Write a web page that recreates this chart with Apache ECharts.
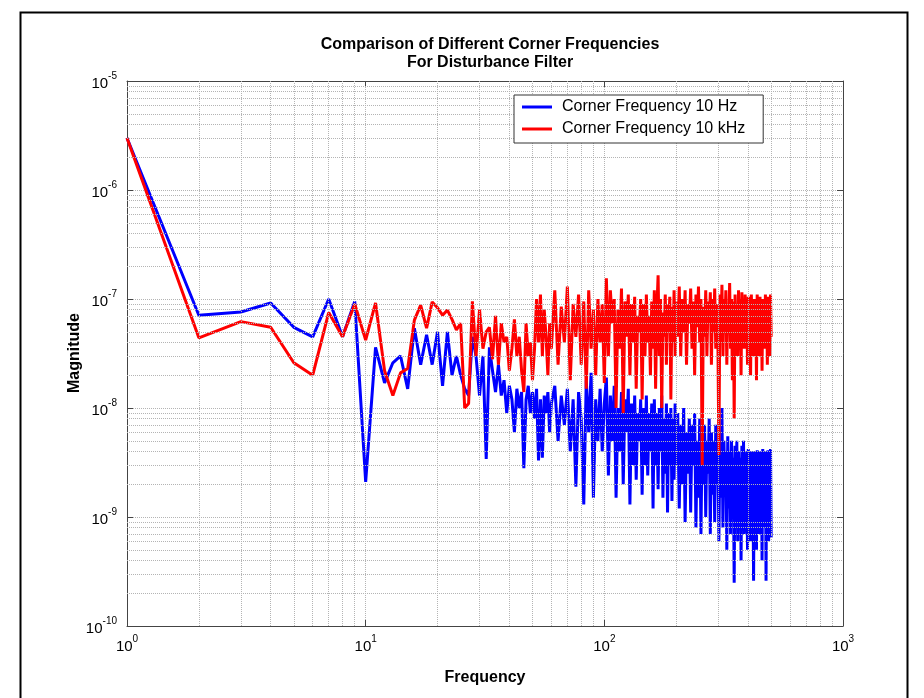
<!DOCTYPE html>
<html>
<head>
<meta charset="utf-8">
<script src="https://cdn.jsdelivr.net/npm/echarts@6/dist/echarts.min.js"></script>
<style>
  html, body { margin: 0; padding: 0; background: #fff; }
  #main { width: 924px; height: 698px; }
</style>
</head>
<body>
<div id="main"></div>
<script>
function range(a, b, step) {
    var out = [];
    for (var f = a; f <= b; f += step) out.push(f);
    return out;
}

// frequency samples (Hz)
var freqs = [].concat(range(1, 60, 1), range(62, 200, 2), range(203, 500, 3));

// magnitudes in units of 1e-9
var blueNano = [
    3000, 71, 76, 92, 55, 45, 100, 45, 95, 2.1,
    36, 17, 26, 30, 15, 54, 25, 47, 25, 50,
    16, 50, 20, 30, 20, 15, 13, 45, 30, 13,
    30, 3.4, 36, 22, 14, 25, 13, 18, 9, 16,
    12, 6, 15, 10, 14, 2.8, 12, 16, 9, 14,
    8, 15, 3.3, 12, 3.5, 13, 9, 14, 6, 11,
    // 62..200 step 2
    16, 5, 13, 7, 15, 4, 12, 1.9, 14, 8, 1.3, 18, 6, 21, 1.5, 12, 5, 15, 4, 11,
    19, 2.4, 13, 5, 16, 1.5, 10, 4, 14, 2, 12, 6, 15, 1.3, 11, 3, 13, 2.2, 9, 5, 12, 1.6, 10, 3,
    13, 2.4, 9, 4, 11, 1.2, 12, 3, 9, 1.8, 10, 4, 13, 1.5, 8, 2.5, 11, 1.1, 9, 3, 10, 1.4, 8, 2.2, 11, 3,
    // 203..500 step 3
    9, 1.2, 7, 2, 10, 0.9, 6, 2.5, 8, 1.1, 7, 3, 9, 0.8, 5, 1.5, 8, 0.7, 6, 2, 7, 1, 5, 2.5, 8, 0.7, 6, 1.6, 5, 0.9, 7, 2, 5,
    0.6, 4.5, 1.5, 10, 0.8, 5, 2, 4, 0.5, 5.5, 1.2, 4, 0.7, 5, 2, 3.5, 0.25, 4.5, 1, 5, 0.6, 4, 1.5, 3.5, 0.4, 4.5, 1.2, 5, 0.7, 3.8, 1.8, 4, 0.5,
    4.2, 1, 3.5, 0.6, 4, 1.5, 3.2, 0.26, 4, 1.1, 3.6, 0.5, 4.1, 1.6, 3.3, 0.7, 4, 1.2, 3.8, 0.4, 4.2, 1.4, 3.5, 0.8, 4, 0.26, 3.7, 1.3, 4.1, 0.6, 3.5, 1, 4.2, 0.65
];

var redNano = [
    3000, 44, 62, 55, 26, 20, 75, 45, 90, 42,
    92, 22, 13, 21, 23, 64, 88, 54, 94, 83,
    71, 79, 65, 52, 60, 10, 11, 95, 30, 80,
    35, 50, 55, 28, 70, 25, 60, 40, 45, 22,
    35, 65, 30, 45, 22, 14, 60, 30, 40, 18,
    35, 100, 40, 110, 30, 80, 45, 20, 60, 35,
    // 62..200 step 2
    120, 25, 85, 40, 130, 18, 90, 45, 110, 25, 95, 15, 120, 35, 80, 20, 100, 40, 90, 17,
    155, 30, 120, 60, 100, 10, 80, 35, 125, 9, 95, 45, 110, 20, 90, 40, 105, 15, 70, 50, 100, 12, 90, 30,
    110, 40, 70, 20, 95, 35, 120, 15, 80, 165, 30, 100, 10, 75, 45, 110, 25, 90, 50, 105, 12, 85, 40, 120, 30, 95,
    // 203..500 step 3
    45, 130, 30, 100, 50, 120, 25, 90, 60, 125, 35, 95, 20, 110, 55, 130, 40, 100, 3, 85, 45, 120, 30, 95, 60, 115, 25, 100, 50, 125, 35, 90, 45,
    3.7, 110, 40, 135, 30, 100, 55, 120, 25, 90, 60, 140, 35, 100, 18, 95, 8, 110, 50, 85, 30, 120, 45, 100, 20, 115, 60, 90, 35, 110, 50, 95, 25,
    105, 40, 90, 20, 110, 55, 85, 30, 100, 45, 95, 18, 110, 60, 90, 30, 105, 50, 85, 22, 100, 65, 95, 35, 110, 50, 90, 25, 105, 60, 95, 30, 110, 45
];

var xMinorGrid = [2, 3, 4, 5, 6, 7, 8, 9, 20, 30, 40, 50, 60, 70, 80, 90, 200, 300, 400, 500, 600, 700, 800, 900];
var yMinorGrid = [];
[1e-10, 1e-9, 1e-8, 1e-7, 1e-6].forEach(function (d) {
    for (var k = 2; k <= 9; k++) yMinorGrid.push(k * d);
});

var seriesNames = ['Corner Frequency 10 Hz', 'Corner Frequency 10 kHz'];
var X_MIN = 1, X_MAX = 1000, Y_MIN = 1e-10, Y_MAX = 1e-5;

function pairs(vals) {
    return freqs.map(function (f, i) { return [f, vals[i] * 1e-9]; });
}

var FONT = 'Liberation Sans, Arial, sans-serif';
var gridLine = { color: '#b4b4b4', type: 'dotted', width: 1 };
var powLabel = {
    fontFamily: FONT,
    formatter: function (v) {
        var e = Math.round(Math.log10(v));
        return '{b|10}{s|' + e + '}';
    },
    rich: {
        b: { fontSize: 15, color: '#000', fontFamily: FONT, lineHeight: 20, verticalAlign: 'bottom' },
        s: { fontSize: 10, color: '#000', fontFamily: FONT, lineHeight: 20, verticalAlign: 'top' }
    }
};

var minorLines = xMinorGrid.map(function (v) {
    return [{ coord: [v, Y_MIN] }, { coord: [v, Y_MAX] }];
}).concat(yMinorGrid.map(function (v) {
    return [{ coord: [X_MIN, v] }, { coord: [X_MAX, v] }];
}));

var legendIcon = 'path://M0,0 M30,14 M0,5.5 L30,5.5 L30,8.5 L0,8.5 Z';

var myChart = echarts.init(document.getElementById('main'));
var option = {
    animation: false,
    backgroundColor: '#fff',
    title: {
        text: 'Comparison of Different Corner Frequencies\nFor Disturbance Filter',
        left: 485,
        top: 31,
        textAlign: 'center',
        textStyle: { fontFamily: FONT, fontSize: 16, fontWeight: 'bold', lineHeight: 18, color: '#000' }
    },
    graphic: [{
        type: 'rect',
        left: 18, top: 10,
        shape: { width: 887, height: 700 },
        style: { fill: 'none', stroke: '#000', lineWidth: 2 },
        silent: true
    }, {
        // y axis title
        type: 'text',
        x: 75, y: 353,
        rotation: Math.PI / 2,
        style: {
            text: 'Magnitude', fill: '#000', align: 'center', verticalAlign: 'middle',
            font: 'bold 16px Liberation Sans, Arial, sans-serif'
        },
        silent: true
    }],
    legend: {
        data: seriesNames.map(function (n) { return { name: n, icon: legendIcon }; }),
        orient: 'vertical',
        left: 514,
        top: 95,
        z: 20,
        itemWidth: 30,
        itemHeight: 14,
        itemGap: 6,
        padding: [4, 18, 6, 8],
        backgroundColor: '#fff',
        borderColor: '#333',
        borderWidth: 1,
        textStyle: { fontFamily: FONT, fontSize: 16, color: '#000', padding: [0, 0, 0, 5] }
    },
    grid: { left: 127, top: 81, width: 716, height: 545 },
    xAxis: [{
        type: 'log',
        logBase: 10,
        min: X_MIN,
        max: X_MAX,
        name: 'Frequency',
        nameLocation: 'middle',
        nameGap: 44,
        nameTextStyle: { fontFamily: FONT, fontSize: 16, fontWeight: 'bold', color: '#000' },
        axisLine: { show: true, lineStyle: { color: '#444', width: 1 } },
        axisTick: { show: true, inside: true, length: 6, lineStyle: { color: '#444' } },
        axisLabel: Object.assign({ margin: 8 }, powLabel),
        splitLine: { show: true, lineStyle: gridLine }
    }, {
        type: 'log',
        logBase: 10,
        min: X_MIN,
        max: X_MAX,
        position: 'top',
        axisLine: { show: true, lineStyle: { color: '#444', width: 1 } },
        axisTick: { show: true, inside: true, length: 6, lineStyle: { color: '#444' } },
        axisLabel: { show: false },
        splitLine: { show: false }
    }],
    yAxis: [{
        type: 'log',
        logBase: 10,
        min: Y_MIN,
        max: Y_MAX,
        axisLine: { show: true, lineStyle: { color: '#444', width: 1 } },
        axisTick: { show: true, inside: true, length: 6, lineStyle: { color: '#444' } },
        axisLabel: Object.assign({ margin: 10 }, powLabel),
        splitLine: { show: true, lineStyle: gridLine }
    }, {
        type: 'log',
        logBase: 10,
        min: Y_MIN,
        max: Y_MAX,
        position: 'right',
        axisLine: { show: true, lineStyle: { color: '#444', width: 1 } },
        axisTick: { show: true, inside: true, length: 6, lineStyle: { color: '#444' } },
        axisLabel: { show: false },
        splitLine: { show: false }
    }],
    series: [
        {
            type: 'line',
            data: [],
            z: 1,
            silent: true,
            markLine: {
                silent: true,
                symbol: 'none',
                label: { show: false },
                lineStyle: gridLine,
                data: minorLines
            }
        },
        {
            name: seriesNames[0],
            type: 'line',
            z: 3,
            showSymbol: false,
            symbol: 'none',
            color: '#0000ff',
            lineStyle: { width: 3, color: '#0000ff' },
            data: pairs(blueNano)
        },
        {
            name: seriesNames[1],
            type: 'line',
            z: 4,
            showSymbol: false,
            symbol: 'none',
            color: '#ff0000',
            lineStyle: { width: 3, color: '#ff0000' },
            data: pairs(redNano)
        }
    ]
};
myChart.setOption(option);
</script>
</body>
</html>
